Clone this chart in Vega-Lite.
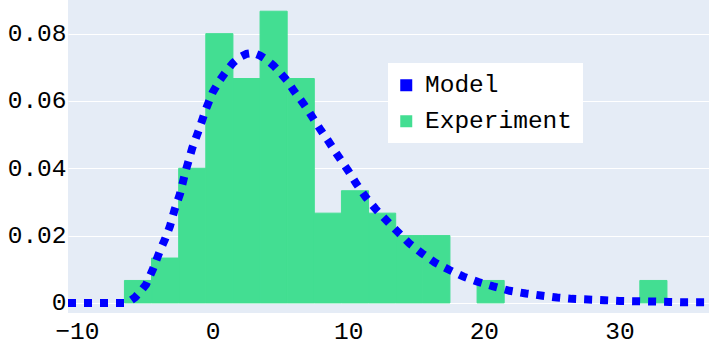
{
  "$schema": "https://vega.github.io/schema/vega-lite/v6.json",
  "width": 641,
  "height": 313,
  "autosize": {"type": "none"},
  "padding": {"left": 68, "top": 0, "right": 0, "bottom": 39},
  "background": "white",
  "config": {
    "view": {"fill": "#E5ECF6", "stroke": null},
    "font": "Liberation Mono",
    "axis": {"labelFont": "Liberation Mono", "labelFontSize": 24.5, "labelColor": "#000000", "domain": false, "ticks": false, "tickSize": 0, "title": null}
  },
  "datasets": {
    "hist": [
      {"x0": -6.5, "x1": -4.5, "density": 0.00667},
      {"x0": -4.5, "x1": -2.5, "density": 0.01333},
      {"x0": -2.5, "x1": -0.5, "density": 0.04},
      {"x0": -0.5, "x1": 1.5, "density": 0.08},
      {"x0": 1.5, "x1": 3.5, "density": 0.06667},
      {"x0": 3.5, "x1": 5.5, "density": 0.08667},
      {"x0": 5.5, "x1": 7.5, "density": 0.06667},
      {"x0": 7.5, "x1": 9.5, "density": 0.02667},
      {"x0": 9.5, "x1": 11.5, "density": 0.03333},
      {"x0": 11.5, "x1": 13.5, "density": 0.02667},
      {"x0": 13.5, "x1": 15.5, "density": 0.02},
      {"x0": 15.5, "x1": 17.5, "density": 0.02},
      {"x0": 19.5, "x1": 21.5, "density": 0.00667},
      {"x0": 31.5, "x1": 33.5, "density": 0.00667}
    ],
    "model": [
      {"x": -10.66, "y": 0},
      {"x": -9, "y": 0},
      {"x": -8, "y": 0},
      {"x": -7, "y": 0},
      {"x": -6.5, "y": 0},
      {"x": -6, "y": 0.0008},
      {"x": -5.7, "y": 0.0017},
      {"x": -5.3, "y": 0.0035},
      {"x": -4.9, "y": 0.0055},
      {"x": -4.4, "y": 0.01},
      {"x": -3.9, "y": 0.0153},
      {"x": -3.5, "y": 0.019},
      {"x": -3.15, "y": 0.0227},
      {"x": -2.8, "y": 0.0277},
      {"x": -2.4, "y": 0.0324},
      {"x": -2.0, "y": 0.039},
      {"x": -1.5, "y": 0.046},
      {"x": -1.0, "y": 0.0515},
      {"x": -0.5, "y": 0.0575},
      {"x": 0, "y": 0.0625},
      {"x": 0.5, "y": 0.066},
      {"x": 1.0, "y": 0.0688},
      {"x": 1.5, "y": 0.0713},
      {"x": 2.0, "y": 0.073},
      {"x": 2.5, "y": 0.074},
      {"x": 3.0, "y": 0.0743},
      {"x": 3.5, "y": 0.0735},
      {"x": 4.0, "y": 0.0722},
      {"x": 4.5, "y": 0.0705},
      {"x": 5.0, "y": 0.0683},
      {"x": 5.5, "y": 0.066},
      {"x": 6.0, "y": 0.063},
      {"x": 6.5, "y": 0.0603},
      {"x": 7.0, "y": 0.0575},
      {"x": 7.5, "y": 0.0543},
      {"x": 8.0, "y": 0.0512},
      {"x": 8.5, "y": 0.0483},
      {"x": 9.0, "y": 0.0452},
      {"x": 9.5, "y": 0.0422},
      {"x": 10, "y": 0.0393},
      {"x": 10.6, "y": 0.0354},
      {"x": 11.3, "y": 0.0314},
      {"x": 12.0, "y": 0.028},
      {"x": 12.9, "y": 0.0242},
      {"x": 13.7, "y": 0.0209},
      {"x": 14.5, "y": 0.0177},
      {"x": 15.45, "y": 0.0147},
      {"x": 16.4, "y": 0.012},
      {"x": 17.5, "y": 0.0097},
      {"x": 18.5, "y": 0.0078},
      {"x": 19.6, "y": 0.0062},
      {"x": 20.7, "y": 0.0049},
      {"x": 21.9, "y": 0.0036},
      {"x": 23.1, "y": 0.0028},
      {"x": 24.2, "y": 0.0022},
      {"x": 25.4, "y": 0.0016},
      {"x": 26.5, "y": 0.0012},
      {"x": 27.7, "y": 0.001},
      {"x": 28.9, "y": 0.0008},
      {"x": 30, "y": 0.0006},
      {"x": 31.25, "y": 0.0005},
      {"x": 32.5, "y": 0.0004},
      {"x": 33.7, "y": 0.0003},
      {"x": 34.8, "y": 0.0002},
      {"x": 36.6, "y": 0.0002}
    ]
  },
  "layer": [
    {
      "mark": {"type": "rule", "color": "#FFFFFF", "strokeWidth": 2},
      "encoding": {"y": {"datum": 0, "type": "quantitative"}}
    },
    {
      "data": {"name": "hist"},
      "mark": {"type": "bar", "opacity": 1, "strokeWidth": 1},
      "encoding": {
        "x": {"field": "x0", "type": "quantitative",
          "scale": {"domain": [-10.66, 36.6], "nice": false, "zero": false},
          "axis": {"values": [-10, 0, 10, 20, 30], "grid": false, "labelPadding": 6}},
        "x2": {"field": "x1"},
        "y": {"field": "density", "type": "quantitative",
          "scale": {"domain": [-0.003, 0.09], "nice": false, "zero": false},
          "axis": {"values": [0, 0.02, 0.04, 0.06, 0.08], "format": "~g", "grid": true, "gridColor": "#FFFFFF", "gridWidth": 1, "labelPadding": 2}},
        "y2": {"datum": 0},
        "stroke": {"datum": "Experiment", "type": "nominal", "scale": {"domain": ["Model", "Experiment"], "range": ["#0000FF", "#43DE92"]}, "legend": null},
        "color": {"datum": "Experiment", "type": "nominal",
          "scale": {"domain": ["Model", "Experiment"], "range": ["#0000FF", "#43DE92"]},
          "legend": {
            "title": null,
            "orient": "none",
            "legendX": 320,
            "legendY": 63,
            "padding": 10,
            "fillColor": "#FFFFFF",
            "labelFont": "Liberation Mono",
            "labelFontSize": 24.5,
            "labelColor": "#000000",
            "labelOffset": 6.5,
            "rowPadding": 11,
            "symbolType": "square",
            "symbolSize": 144,
            "symbolStrokeWidth": 0,
            "symbolOffset": -4,
            "symbolOpacity": 1
          }}
      }
    },
    {
      "data": {"name": "model"},
      "mark": {"type": "line", "strokeWidth": 8, "strokeDash": [8, 8], "strokeCap": "butt", "clip": true},
      "encoding": {
        "x": {"field": "x", "type": "quantitative"},
        "y": {"field": "y", "type": "quantitative"},
        "color": {"datum": "Model", "type": "nominal", "legend": null}
      }
    }
  ]
}
